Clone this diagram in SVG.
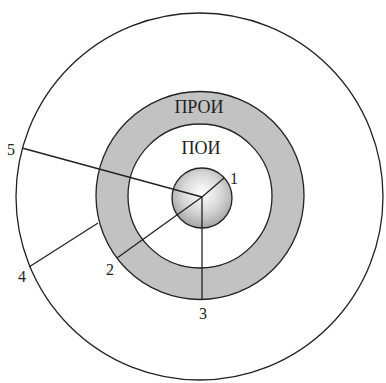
<svg xmlns="http://www.w3.org/2000/svg" width="386" height="383" viewBox="0 0 386 383">
<style>
.ln{stroke:#222;stroke-width:1.3;fill:none}
.t{font-family:"Liberation Serif","Times New Roman",serif;font-size:16px;fill:#222;text-anchor:middle}
.big{font-size:18px}
</style>
<defs>
<radialGradient id="g" cx="0.5" cy="0.42" r="0.6">
<stop offset="0" stop-color="#ffffff"/>
<stop offset="0.55" stop-color="#d6d6d6"/>
<stop offset="1" stop-color="#a0a0a0"/>
</radialGradient>
</defs>
<rect width="386" height="383" fill="#fff"/>
<g id="outer"><circle cx="199.5" cy="196.5" r="183.5" class="ln"/></g>
<g id="proi"><circle cx="200" cy="195.5" r="88" fill="none" stroke="#c2c2c2" stroke-width="32"/>
<circle cx="200" cy="195.5" r="104" class="ln"/><circle cx="200" cy="196" r="72" class="ln"/>
<text x="199" y="113" class="t big">ПРОИ</text></g>
<g id="poi"><text x="201" y="154" class="t big">ПОИ</text></g>
<g id="core"><circle cx="202" cy="198" r="30" fill="url(#g)" stroke="#222" stroke-width="1.3"/></g>
<g id="connectors">
<line x1="202" y1="197" x2="224" y2="178" class="ln"/>
<line x1="202" y1="197" x2="117" y2="258" class="ln"/>
<line x1="202" y1="197" x2="202" y2="299" class="ln"/>
<line x1="98" y1="223" x2="29" y2="267" class="ln"/>
<line x1="202" y1="197" x2="22" y2="148" class="ln"/>
</g>
<g id="labels">
<text x="234" y="184" class="t">1</text>
<text x="110" y="275" class="t">2</text>
<text x="203" y="319" class="t">3</text>
<text x="22" y="282" class="t">4</text>
<text x="11" y="155" class="t">5</text>
</g>
</svg>
